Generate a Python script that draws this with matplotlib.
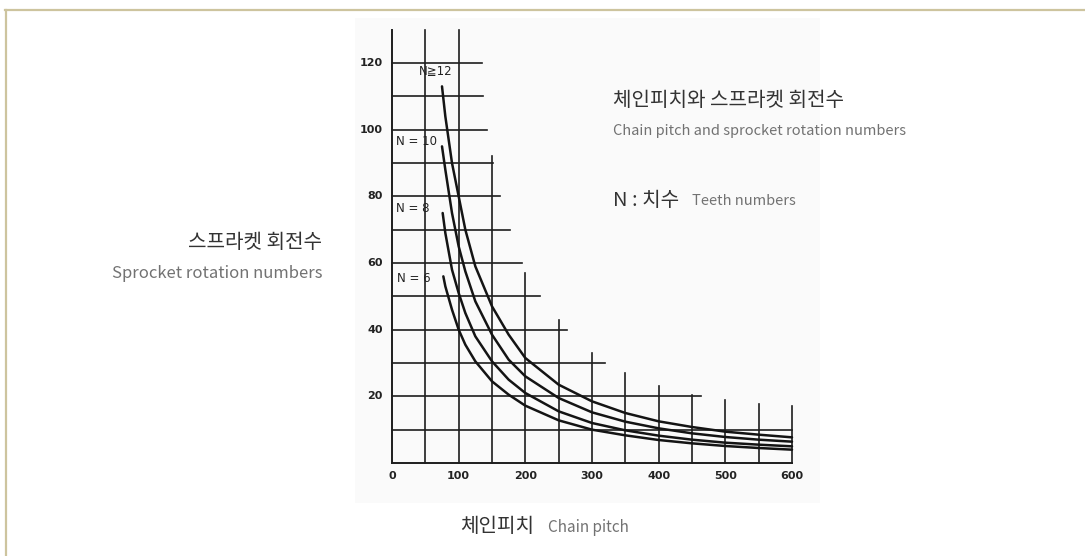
import matplotlib
matplotlib.use("Agg")
import matplotlib.pyplot as plt
from matplotlib.patches import Rectangle
from matplotlib.lines import Line2D

plt.rcParams['font.family'] = ['Noto Sans CJK KR', 'DejaVu Sans']

# ---------------- data ----------------
pitch_n12 = [75, 80, 90, 100, 110, 125, 150, 175, 200, 250, 300, 350, 400, 450, 500, 550, 600]
rpm_n12 = [113, 104, 90, 80, 70, 59, 47, 38.5, 31.5, 23.5, 18.5, 15, 12.5, 10.8, 9.4, 8.5, 7.7]

pitch_n10 = [75, 80, 90, 100, 110, 125, 150, 175, 200, 250, 300, 350, 400, 450, 500, 550, 600]
rpm_n10 = [95, 88, 75, 65, 57.5, 48.5, 38.5, 31, 26, 19.5, 15.2, 12.4, 10.4, 8.9, 7.8, 7.0, 6.4]

pitch_n8 = [76, 80, 90, 100, 110, 125, 150, 175, 200, 250, 300, 350, 400, 450, 500, 550, 600]
rpm_n8 = [75, 69, 58, 51, 45, 38, 30.5, 25, 21, 15.5, 12, 9.8, 8.2, 7.0, 6.1, 5.5, 5.0]

pitch_n6 = [77, 80, 90, 100, 110, 125, 150, 175, 200, 250, 300, 350, 400, 450, 500, 550, 600]
rpm_n6 = [56, 53, 46, 40, 35.5, 30.5, 24.5, 20.5, 17.2, 12.8, 10.0, 8.3, 6.9, 5.9, 5.1, 4.5, 4.0]

curve_labels = ["N≧12", "N = 10", "N = 8", "N = 6"]

# staircase grid: vertical lines (x, top y) and horizontal lines (y, right x)
vgrid_x = [50, 100, 150, 200, 250, 300, 350, 400, 450, 500, 550, 600]
vgrid_top = [130, 130, 92, 57, 43, 33, 27, 23, 20.5, 19, 17.7, 17]
hgrid_y = [10, 20, 30, 40, 50, 60, 70, 80, 90, 100, 110, 120]
hgrid_right = [600, 463, 320, 262, 222, 195, 177, 162, 152, 143, 137, 135]

xticks = [0, 100, 200, 300, 400, 500, 600]
yticks = [20, 40, 60, 80, 100, 120]

# ---------------- figure ----------------
W, H = 1085, 556
fig = plt.figure(figsize=(W / 100, H / 100), dpi=100)
fig.patch.set_facecolor('white')

def fx(px):
    return px / W

def fy(py):
    return 1 - py / H

# outer frame (top and left)
fig.add_artist(Line2D([fx(5), fx(1085)], [fy(10), fy(10)], color='#cdc49e', lw=1.6))
fig.add_artist(Line2D([fx(5.5), fx(5.5)], [fy(10), fy(556)], color='#cdc49e', lw=1.6))
# scanned image background
fig.add_artist(Rectangle((fx(355), fy(503)), fx(820) - fx(355), fy(18) - fy(503),
                         facecolor='#fafafa', edgecolor='none', zorder=0))

# chart axes: x 0..600 -> px 392..792, y 0..130 -> px 463..30
x0, x1 = 392, 792
y0 = 463
ppu = 3.333
ytop = y0 - 130 * ppu
ax = fig.add_axes([fx(x0), fy(y0), fx(x1) - fx(x0), fy(ytop) - fy(y0)])
ax.set_xlim(0, 600)
ax.set_ylim(0, 130)
ax.patch.set_alpha(0)
for s in ax.spines.values():
    s.set_visible(False)
ax.set_xticks([])
ax.set_yticks([])

gc = '#1e1e1e'
# axis lines
ax.plot([0, 0], [0, 130], color=gc, lw=1.4, clip_on=False)
ax.plot([0, 600], [0, 0], color=gc, lw=1.4, clip_on=False)
for xv, yt in zip(vgrid_x, vgrid_top):
    ax.plot([xv, xv], [0, yt], color=gc, lw=1.2, clip_on=False)
for yv, xr in zip(hgrid_y, hgrid_right):
    ax.plot([0, xr], [yv, yv], color=gc, lw=1.2, clip_on=False)

for px_, py_ in [(pitch_n12, rpm_n12), (pitch_n10, rpm_n10), (pitch_n8, rpm_n8), (pitch_n6, rpm_n6)]:
    ax.plot(px_, py_, color='#141414', lw=1.8, clip_on=False, solid_capstyle='round')

# curve labels
lab_pos = [(40, 117.5), (6, 96.5), (6, 76.5), (8, 55.5)]
for t, (lx, ly) in zip(curve_labels, lab_pos):
    ax.text(lx, ly, t, fontsize=8.5, color='#222', va='center', ha='left',
            family=['DejaVu Sans', 'Noto Sans CJK KR'])

# tick labels
for t in xticks:
    ax.text(t, -3.8, str(t), fontsize=8, color='#222', ha='center', va='center',
            family='DejaVu Sans', fontweight='bold', clip_on=False)
for t in yticks:
    ax.text(-13.5, t, str(t), fontsize=8, color='#222', ha='right', va='center',
            family='DejaVu Sans', fontweight='bold', clip_on=False)

# ---------------- texts ----------------
kc = '#333333'
ec = '#727272'
fig.text(fx(613), fy(100), '체인피치와 스프라켓 회전수', fontsize=14.5, color=kc,
         ha='left', va='center')
fig.text(fx(613), fy(131), 'Chain pitch and sprocket rotation numbers', fontsize=10.5,
         color=ec, ha='left', va='center')
fig.text(fx(613), fy(200), 'N : 치수', fontsize=14.5, color=kc, ha='left', va='center')
fig.text(fx(692), fy(201), 'Teeth numbers', fontsize=10.5, color=ec, ha='left', va='center')

fig.text(fx(322), fy(243), '스프라켓 회전수', fontsize=14.5, color=kc, ha='right', va='center')
fig.text(fx(322), fy(273), 'Sprocket rotation numbers', fontsize=12, color=ec,
         ha='right', va='center')

fig.text(fx(460), fy(527), '체인피치', fontsize=14.5, color=kc, ha='left', va='center')
fig.text(fx(548), fy(528), 'Chain pitch', fontsize=11, color=ec, ha='left', va='center')

fig.savefig('out.png', dpi=100, facecolor='white')
